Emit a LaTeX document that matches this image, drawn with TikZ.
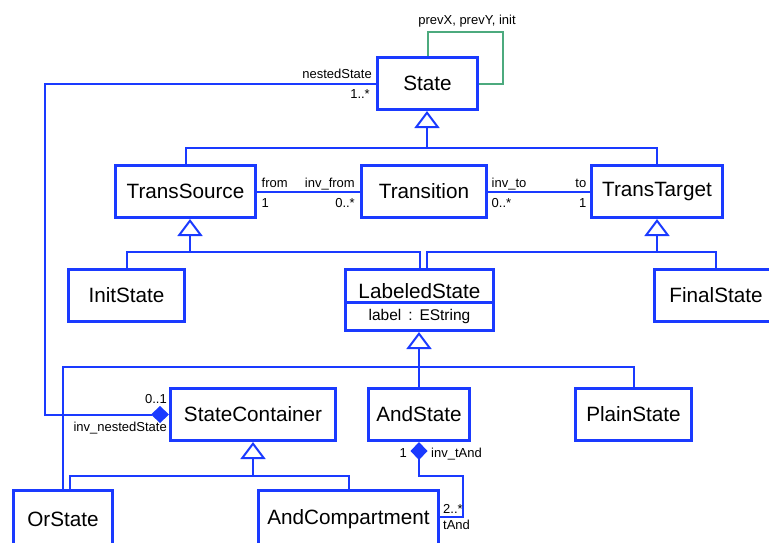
\documentclass[tikz,border=0pt]{standalone}
\usepackage{fontspec}
\setmainfont{Liberation Sans}
\usetikzlibrary{arrows.meta,shapes.multipart,positioning}

\definecolor{umlblue}{RGB}{26,58,255}
\definecolor{umlgreen}{RGB}{76,170,126}

\begin{document}
\begin{tikzpicture}[x=1pt, y=-1pt,
  cls/.style={draw=umlblue, line width=3pt, fill=white, minimum height=52pt, inner sep=0pt, font=\fontsize{20.7}{24}\selectfont},
  lbl/.style={inner sep=0pt, font=\fontsize{13}{15}\selectfont},
  conn/.style={draw=umlblue, line width=2pt},
  gen/.style={conn, -{Triangle[open, length=17pt, width=25pt]}},
  comp/.style={conn, -{Diamond[length=18pt, width=17pt]}},
  loopline/.style={draw=umlgreen, line width=2pt}]
  \useasboundingbox (0,0) rectangle (769,542);

  \node[cls, minimum width=100pt] (State) at (427.5,83.5) {State};

  \node[cls, minimum width=140pt] (TransSource) at (185.5,191.5) {TransSource};
  \node[cls, minimum width=125pt, right=103pt of TransSource] (Transition) {Transition};
  \node[cls, minimum width=131pt, right=102pt of Transition] (TransTarget) {TransTarget};

  \node[cls, minimum width=116pt] (InitState) at (126.5,295.5) {InitState};
  \node[cls, rectangle split, rectangle split parts=2, text width=148pt, align=center, anchor=north] (LabeledState) at (419.5,268)
    {\rule[-2pt]{0pt}{29.5pt}LabeledState\nodepart{two}\fontsize{15.5}{18}\selectfont\rule[-8.5pt]{0pt}{25.5pt}\mbox{label :\ EString}};
  \node[cls, minimum width=123pt] (FinalState) at (716,295.5) {FinalState};

  \node[cls, minimum width=165pt] (StateContainer) at (253,414.5) {StateContainer};
  \node[cls, minimum width=101pt, right=30pt of StateContainer] (AndState) {AndState};
  \node[cls, minimum width=116pt, right=103pt of AndState] (PlainState) {PlainState};

  \node[cls, minimum width=99pt, minimum height=57pt] (OrState) at (63,519) {OrState};
  \node[cls, minimum width=180pt, minimum height=57pt, right=143pt of OrState] (AndCompartment) {AndCompartment};

  % bends of the inheritance trees
  \coordinate (stateBar) at (427,148);
  \coordinate (srcBar) at (190,252);
  \coordinate (tgtBar) at (657,252);
  \coordinate (lblBar) at (419,367);
  \coordinate (contBar) at (253,476);

  \draw[conn] (TransSource.north) |- (stateBar) -| (TransTarget.north);
  \draw[gen] (stateBar) -- (stateBar |- State.south);

  \draw[conn] (InitState.north) |- (srcBar) -| (LabeledState.north);
  \draw[gen] (srcBar) -- (srcBar |- TransSource.south);

  \draw[conn] ([xshift=7.5pt]LabeledState.north) |- (tgtBar) -| (FinalState.north);
  \draw[gen] (tgtBar) -- (tgtBar |- TransTarget.south);

  \draw[conn] (OrState.north) |- (lblBar) -| (PlainState.north);
  \draw[conn] (lblBar) -- (lblBar |- AndState.north);
  \draw[gen] (lblBar) -- (lblBar |- LabeledState.south);

  \draw[conn] ([xshift=7pt]OrState.north) |- (contBar) -| (AndCompartment.north);
  \draw[gen] (contBar) -- (contBar |- StateContainer.south);

  % associations
  \draw[conn] (TransSource.east) -- (Transition.west);
  \draw[conn] (Transition.east) -- (TransTarget.west);
  \node[lbl, anchor=base west, xshift=4.5pt, yshift=4pt] (fromRole) at (TransSource.east) {from};
  \node[lbl, anchor=base west, xshift=4.5pt, yshift=-15.5pt] (fromMult) at (TransSource.east) {1};
  \node[lbl, anchor=base east, xshift=-5pt, yshift=4pt] (invFromRole) at (Transition.west) {inv\_from};
  \node[lbl, anchor=base east, xshift=-5pt, yshift=-15.5pt] (invFromMult) at (Transition.west) {0..*};
  \node[lbl, anchor=base west, xshift=3.5pt, yshift=4pt] (invToRole) at (Transition.east) {inv\_to};
  \node[lbl, anchor=base west, xshift=3.5pt, yshift=-15.5pt] (invToMult) at (Transition.east) {0..*};
  \node[lbl, anchor=base east, xshift=-3.5pt, yshift=4pt] (toRole) at (TransTarget.west) {to};
  \node[lbl, anchor=base east, xshift=-3.5pt, yshift=-15.5pt] (toMult) at (TransTarget.west) {1};

  % self reference of State
  \coordinate (loopCorner) at (503,32);
  \draw[loopline] (State.north) |- (loopCorner) |- (State.east);
  \node[lbl, anchor=base] (loopRole) at (467,24) {prevX, prevY, init};

  % containment of nested states
  \coordinate (nestCorner) at (45,0);
  \draw[comp] (State.west) -| (nestCorner |- StateContainer.west) -- (StateContainer.west);
  \node[lbl, anchor=base east, xshift=-4pt, yshift=5.5pt] (nestRole) at (State.west) {nestedState};
  \node[lbl, anchor=base east, xshift=-6pt, yshift=-14.5pt] (nestMult) at (State.west) {1..*};
  \node[lbl, anchor=base east, xshift=-2pt, yshift=11.5pt] (invNestMult) at (StateContainer.west) {0..1};
  \node[lbl, anchor=base east, xshift=-2pt, yshift=-17pt] (invNestRole) at (StateContainer.west) {inv\_nestedState};

  % compartments of AndState
  \coordinate (tAndBend) at (463,476);
  \coordinate (tAndFoot) at (463,517);
  \draw[comp] (AndCompartment.east |- tAndFoot) -| (tAndBend) -| (AndState.south);
  \node[lbl, anchor=base east, xshift=-12pt, yshift=-15pt] (andMult) at (AndState.south) {1};
  \node[lbl, anchor=base west, xshift=12pt, yshift=-15pt] (invTAndRole) at (AndState.south) {inv\_tAnd};
  \node[lbl, anchor=base west, xshift=3pt, yshift=4pt] (tAndMult) at (AndCompartment.east |- tAndFoot) {2..*};
  \node[lbl, anchor=base west, xshift=3pt, yshift=-12pt] (tAndRole) at (AndCompartment.east |- tAndFoot) {tAnd};
\end{tikzpicture}
\end{document}
